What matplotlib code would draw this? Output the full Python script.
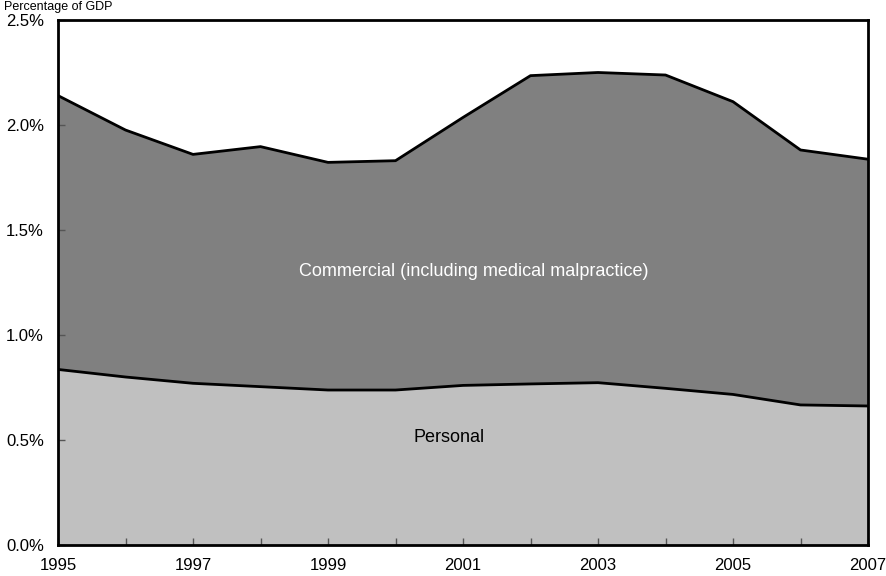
import numpy as np
import matplotlib
matplotlib.use("Agg")
import matplotlib.pyplot as plt
from matplotlib.ticker import FuncFormatter, MultipleLocator, FixedLocator

plt.rcParams["font.family"] = ["Liberation Sans", "DejaVu Sans"]

# Anos e participação no PIB (%)
anos = np.arange(1995, 2008)
pessoal = [0.836, 0.80, 0.77, 0.754, 0.738, 0.738, 0.760, 0.767, 0.773, 0.746, 0.717, 0.667, 0.662]
total = [2.14, 1.976, 1.86, 1.897, 1.822, 1.83, 2.036, 2.235, 2.25, 2.238, 2.111, 1.881, 1.837]
comercial = [t - p for t, p in zip(total, pessoal)]

fig = plt.figure(figsize=(8.87, 5.76), dpi=100)
ax = fig.add_axes([0.0654, 0.0538, 0.9132, 0.9115])

ax.stackplot(anos, pessoal, comercial, colors=["#c0c0c0", "#808080"], linewidth=0)
ax.plot(anos, pessoal, color="black", lw=2)
ax.plot(anos, total, color="black", lw=2)

ax.set_xlim(1995, 2007)
ax.set_ylim(0, 2.5)
ax.xaxis.set_major_locator(FixedLocator(anos[::2]))
ax.xaxis.set_minor_locator(FixedLocator(anos))
ax.xaxis.set_major_formatter(FuncFormatter(lambda v, p: f"{int(v)}"))
ax.yaxis.set_major_locator(MultipleLocator(0.5))
ax.yaxis.set_major_formatter(FuncFormatter(lambda v, p: f"{v:.1f}%"))
ax.tick_params(axis="both", direction="in", labelsize=12, length=5, width=1, color="#555555")
ax.tick_params(axis="x", which="minor", direction="in", length=5, width=1, color="#555555")
ax.tick_params(axis="x", pad=9)
ax.tick_params(axis="y", pad=10)
for s in ax.spines.values():
    s.set_linewidth(2)

ax.text(2001.16, 1.30, "Commercial (including medical malpractice)", color="white",
        fontsize=13, ha="center", va="center")
ax.text(2000.8, 0.514, "Personal", color="black", fontsize=13, ha="center", va="center")

fig.text(0.005, 0.999, "Percentage of GDP", fontsize=9, ha="left", va="top")

fig.savefig("out.png", dpi=100)
